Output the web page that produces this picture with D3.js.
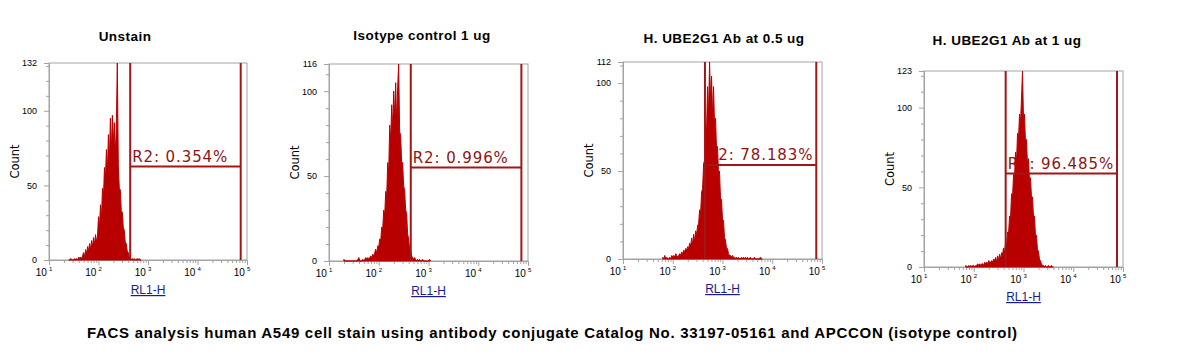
<!DOCTYPE html>
<html>
<head>
<meta charset="utf-8">
<script src="https://cdn.jsdelivr.net/npm/d3@7"></script>
<style>
  body { margin: 0; background: #fff; }
  svg { display: block; }
</style>
</head>
<body>
<div id="chart"></div>
<script>
// values
const titles = ["Unstain", "Isotype control 1 ug", "H. UBE2G1 Ab at 0.5 ug", "H. UBE2G1 Ab at 1 ug"];
const yMax = [132, 116, 112, 123];
const gateLow = [437, 440, 444, 438];
const gateHigh = [74600, 73600, 76700, 75700];
const gateLevel = [62.6, 55, 53.4, 58.6];
const gateLabels = ["R2: 0.354%", "R2: 0.996%", "R2: 78.183%", "R2: 96.485%"];
const decades = [10, 100, 1000, 10000, 100000];
const decadeExp = ["1", "2", "3", "4", "5"];
const caption = "FACS analysis human A549 cell stain using antibody conjugate Catalog No. 33197-05161 and APCCON (isotype control)";

// histogram channels: log10 of first channel, 0.02 decade per channel
const binStart = [1.40, 1.30, 1.80, 1.84];
const binStep = 0.02;

const unstainCounts = [0, 0, 1, 0, 0, 0, 1, 0, 1, 0, 2, 1,
  2, 1, 3, 5, 2, 7, 4, 9, 6, 11, 7, 13, 9, 15, 10, 17, 12, 16,
  29, 22, 37, 27, 48, 41, 62, 54, 74, 58, 84, 66, 95, 72, 97, 78, 92, 70, 88, 132,
  64, 48, 47, 33, 32, 22, 20, 12, 11, 6, 5, 2, 1, 0, 1, 0, 1, 0, 0, 1, 0, 1, 0, 0];

const isotypeCounts = [1, 0, 0, 0, 0, 0, 0, 0, 0, 0, 0, 0, 0, 0, 1, 2, 0, 0, 0, 1,
  0, 1, 2, 1, 2, 1, 2, 3, 2, 4, 3, 5, 7, 4, 9, 8, 13, 12, 20, 19,
  30, 27, 41, 38, 58, 52, 80, 70, 92, 78, 100, 84, 105, 80, 102, 116,
  76, 74, 58, 58, 44, 42, 30, 28, 16, 13, 7, 6, 3, 2, 1, 2, 1, 0, 1, 0, 1, 0, 0, 1,
  0, 0, 0, 0, 0, 0, 1, 0];

const ab05Counts = [1, 0, 2, 0, 1, 0, 0, 1, 0, 2, 1, 2, 1, 3, 2, 1, 2, 3, 2, 4,
  3, 5, 4, 6, 5, 7, 6, 9, 7, 12, 8, 14, 10, 16, 14, 19, 20, 28, 26, 38,
  40, 54, 56, 76, 74, 98, 82, 112, 90, 104, 80, 98, 76, 80, 62, 64, 48, 50, 34, 34,
  22, 22, 12, 11, 6, 6, 3, 2, 2, 1, 2, 1, 1, 0, 1, 0, 1, 0, 0, 1,
  0, 1, 0, 1, 0, 1, 0, 0, 1, 0, 0, 0, 1, 0, 0, 0, 0, 0, 1, 0, 0];

const ab1Counts = [1, 0, 0, 1, 0, 1, 0, 1, 1, 0, 1, 1, 2, 1, 2, 1, 2, 2, 1, 3,
  2, 3, 2, 4, 3, 3, 4, 3, 5, 4, 6, 3, 7, 4, 8, 5, 9, 8, 12, 9,
  15, 14, 22, 21, 32, 31, 46, 44, 58, 56, 72, 66, 84, 80, 96, 90, 106, 123, 92, 96,
  78, 80, 64, 68, 54, 56, 44, 44, 32, 32, 20, 20, 11, 10, 5, 4, 2, 1, 1, 0,
  1, 0, 0, 1, 0, 0, 1, 0, 0];

const allCounts = [unstainCounts, isotypeCounts, ab05Counts, ab1Counts];

// layout
const panelLayout = [
  {left: 49, top: 63, w: 198, h: 197, titleX: 125, titleY: 41},
  {left: 329, top: 64, w: 199, h: 197, titleX: 422, titleY: 40},
  {left: 623, top: 62, w: 199, h: 197, titleX: 724, titleY: 43},
  {left: 924, top: 71, w: 199, h: 196, titleX: 1007, titleY: 45}
];

const histColor = "#b80000";
const gateColor = "#a31616";
const axisColor = "#a3a3a3";

const svg = d3.select("#chart").append("svg")
  .attr("width", 1189)
  .attr("height", 360)
  .style("background", "#fff");

panelLayout.forEach((p, k) => {
  const g = svg.append("g").attr("transform", `translate(${p.left},${p.top})`);

  const x = d3.scaleLog().domain([10, 100000]).range([0, p.w]);
  const y = d3.scaleLinear().domain([0, yMax[k]]).range([p.h, 0]);

  // title
  svg.append("text")
    .attr("x", p.titleX)
    .attr("y", p.titleY)
    .attr("text-anchor", "middle")
    .style("font-family", "'Liberation Sans', Arial, sans-serif")
    .style("font-weight", "bold")
    .style("font-size", "13.5px")
    .style("letter-spacing", "0.45px")
    .text(titles[k]);

  // frame
  g.append("rect")
    .attr("width", p.w)
    .attr("height", p.h)
    .attr("fill", "none")
    .attr("stroke", axisColor);

  // y axis
  g.append("g")
    .call(d3.axisLeft(y).tickValues([0, 50, 100, yMax[k]]).tickSize(5).tickPadding(7).tickSizeOuter(0));
  g.append("g")
    .call(d3.axisLeft(y).tickValues(d3.range(10, yMax[k], 10).filter(v => v % 50 !== 0)).tickSize(3).tickFormat("").tickSizeOuter(0));

  // x axis
  g.append("g")
    .attr("transform", `translate(0,${p.h})`)
    .call(d3.axisBottom(x).tickValues(decades).tickSize(5).tickFormat("").tickSizeOuter(0));
  const minor = [];
  decades.slice(0, 4).forEach(d => { for (let m = 2; m <= 9; m++) minor.push(d * m); });
  g.append("g")
    .attr("transform", `translate(0,${p.h})`)
    .call(d3.axisBottom(x).tickValues(minor).tickSize(3).tickFormat("").tickSizeOuter(0));

  g.selectAll(".domain, .tick line").attr("stroke", axisColor);
  g.selectAll(".tick text")
    .attr("fill", "#000")
    .style("font-family", "'Liberation Sans', Arial, sans-serif")
    .style("font-size", "9px");

  // decade labels 10^n
  const lab = g.append("g").selectAll("text")
    .data(decades)
    .join("text")
    .attr("x", d => x(d) - 5)
    .attr("y", p.h + 16)
    .attr("text-anchor", "middle")
    .style("font-family", "'Liberation Sans', Arial, sans-serif")
    .style("font-size", "10px")
    .text("10");
  lab.append("tspan")
    .attr("dx", 2)
    .attr("dy", -5)
    .style("font-size", "6px")
    .text((d, i) => decadeExp[i]);

  // axis titles
  g.append("text")
    .attr("transform", `translate(-30,${p.h / 2}) rotate(-90)`)
    .attr("text-anchor", "middle")
    .style("font-family", "'DejaVu Sans', Verdana, sans-serif")
    .style("font-size", "11.5px")
    .text("Count");

  g.append("text")
    .attr("x", p.w / 2)
    .attr("y", p.h + 34)
    .attr("text-anchor", "middle")
    .attr("fill", "#1b1b8c")
    .style("font-family", "'Liberation Sans', Arial, sans-serif")
    .style("font-size", "12px")
    .style("text-decoration", "underline")
    .text("RL1-H");

  // gate R2
  const gx0 = x(gateLow[k]);
  const gx1 = x(gateHigh[k]);
  const gy = y(gateLevel[k]);

  g.append("text")
    .attr("x", gx0 + 2)
    .attr("y", gy - 5)
    .attr("fill", "#8e1414")
    .style("font-family", "'DejaVu Sans', Verdana, sans-serif")
    .style("font-size", "15px")
    .style("letter-spacing", "0.9px")
    .text(gateLabels[k]);

  // histogram
  const clipId = "clip" + k;
  g.append("clipPath").attr("id", clipId)
    .append("rect").attr("width", p.w).attr("height", p.h + 1);

  const bins = allCounts[k].map((c, i) => ({ch: Math.pow(10, binStart[k] + i * binStep), count: c}));
  const area = d3.area()
    .x(d => x(d.ch))
    .y0(y(0))
    .y1(d => y(d.count));

  g.append("path")
    .datum(bins)
    .attr("clip-path", `url(#${clipId})`)
    .attr("d", area)
    .attr("fill", histColor)
    .attr("stroke", histColor)
    .attr("stroke-width", 1);

  g.append("line")
    .attr("x1", gx0).attr("x2", gx0)
    .attr("y1", 0).attr("y2", p.h)
    .attr("stroke", gateColor).attr("stroke-width", 2);
  g.append("line")
    .attr("x1", gx1).attr("x2", gx1)
    .attr("y1", 0).attr("y2", p.h)
    .attr("stroke", gateColor).attr("stroke-width", 2);
  g.append("line")
    .attr("x1", gx0).attr("x2", gx1)
    .attr("y1", gy).attr("y2", gy)
    .attr("stroke", gateColor).attr("stroke-width", 2);
});

// caption
svg.append("text")
  .attr("x", 87)
  .attr("y", 338)
  .style("font-family", "'Liberation Sans', Arial, sans-serif")
  .style("font-weight", "bold")
  .style("font-size", "15px")
  .style("letter-spacing", "0.7px")
  .text(caption);
</script>
</body>
</html>
